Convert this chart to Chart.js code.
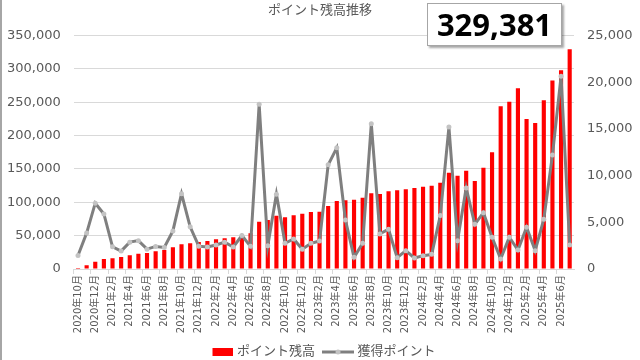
<!DOCTYPE html>
<html>
<head>
<meta charset="utf-8">
<script src="https://cdn.jsdelivr.net/npm/chart.js@4.4.1/dist/chart.umd.min.js"></script>
<style>
  html, body { margin: 0; padding: 0; background: #ffffff; }
  #wrap { position: relative; width: 640px; height: 360px; overflow: hidden; }
  #edge { position: absolute; left: 0; top: 0; width: 2px; height: 360px; background: #a6a6a6; }
  #badge {
    position: absolute; left: 427px; top: 3px; width: 133px; height: 41px;
    background: #fff; border: 1px solid #a6a6a6; box-shadow: 2px 2px 2px rgba(0,0,0,0.35);
    font-family: "Noto Sans", "DejaVu Sans", sans-serif; font-weight: bold; font-size: 31px;
    line-height: 41px; text-align: center; color: #000;
  }
</style>
</head>
<body>
<div id="wrap">
  <canvas id="c" width="640" height="360"></canvas>
  <div id="edge"></div>
  <div id="badge"></div>
</div>
<script>
const categories = [
  "2020年10月","2020年11月","2020年12月",
  "2021年1月","2021年2月","2021年3月","2021年4月","2021年5月","2021年6月","2021年7月","2021年8月","2021年9月","2021年10月","2021年11月","2021年12月",
  "2022年1月","2022年2月","2022年3月","2022年4月","2022年5月","2022年6月","2022年7月","2022年8月","2022年9月","2022年10月","2022年11月","2022年12月",
  "2023年1月","2023年2月","2023年3月","2023年4月","2023年5月","2023年6月","2023年7月","2023年8月","2023年9月","2023年10月","2023年11月","2023年12月",
  "2024年1月","2024年2月","2024年3月","2024年4月","2024年5月","2024年6月","2024年7月","2024年8月","2024年9月","2024年10月","2024年11月","2024年12月",
  "2025年1月","2025年2月","2025年3月","2025年4月","2025年5月","2025年6月","2025年7月"
];
const pointBalance = [
  1500, 5500, 11000, 15000, 16000, 18000, 20500, 23000, 24000, 26500,
  28500, 32500, 37000, 38500, 40500, 42000, 44500, 46000, 47500, 48500,
  53500, 71000, 73500, 80000, 77500, 80500, 83000, 85500, 86000, 94500,
  102000, 103000, 104000, 107000, 113500, 112500, 116500, 118000, 119500, 121500,
  123500, 125000, 129500, 144500, 140000, 147500, 132000, 152000, 175000, 244000,
  251000, 271000, 225000, 219000, 253000, 282500, 298000, 329381
];
const earnedPoints = [
  1450, 3850, 7050, 5900, 2380, 1920, 2880, 3040, 2130, 2420,
  2310, 4080, 8060, 4520, 2450, 2360, 2575, 2880, 2360, 3590,
  2430, 17650, 2500, 8010, 2750, 3220, 2110, 2750, 3000, 11160,
  12980, 5260, 1250, 2750, 15560, 3760, 4260, 1215, 1970, 1180,
  1430, 1570, 5720, 15200, 3040, 8690, 4790, 6040, 3400, 1070,
  3400, 2040, 4470, 1970, 5330, 12200, 20640, 2575
];
const leftTicks = [0, 50000, 100000, 150000, 200000, 250000, 300000, 350000];
const rightTicks = [0, 5000, 10000, 15000, 20000, 25000];
const seriesNames = ["ポイント残高", "獲得ポイント"];
const chartTitle = "ポイント残高推移";

document.getElementById('badge').textContent = pointBalance[pointBalance.length - 1].toLocaleString('en-US');

const FONT = '"DejaVu Sans", "Noto Sans CJK JP", sans-serif';
const TXT = '#595959';
const LINE = '#7f7f7f';
const MARK = '#c3c3c3';

function makeImg(kind) {
  const cv = document.createElement('canvas');
  cv.width = 32; cv.height = 10;
  const g = cv.getContext('2d');
  if (kind === 'bar') {
    g.fillStyle = '#ff0000';
    g.fillRect(11, 1, 21, 8);
  } else {
    g.strokeStyle = LINE; g.lineWidth = 3;
    g.beginPath(); g.moveTo(0, 5); g.lineTo(32, 5); g.stroke();
    g.fillStyle = MARK; g.beginPath(); g.arc(16, 5, 2.5, 0, Math.PI * 2); g.fill();
  }
  return cv;
}
const barImg = makeImg('bar');
const lineImg = makeImg('line');

Chart.defaults.font.family = FONT;
Chart.defaults.color = TXT;

new Chart(document.getElementById('c'), {
  data: {
    labels: categories,
    datasets: [
      {
        type: 'bar', label: seriesNames[0], data: pointBalance, yAxisID: 'y',
        backgroundColor: '#ff0000', borderWidth: 0,
        categoryPercentage: 1.0, barPercentage: 0.48, order: 1
      },
      {
        type: 'line', label: seriesNames[1], data: earnedPoints, yAxisID: 'y2',
        borderColor: LINE, borderWidth: 3, tension: 0,
        pointRadius: 2.5, pointBackgroundColor: MARK, pointBorderColor: MARK, pointBorderWidth: 0,
        order: 0
      }
    ]
  },
  options: {
    responsive: false,
    animation: false,
    devicePixelRatio: 1,
    layout: { padding: { left: 7, right: 7, top: 0, bottom: -8.5 } },
    plugins: {
      tooltip: { enabled: false },
      title: {
        display: true, text: chartTitle, color: TXT,
        font: { size: 13, weight: 'normal', family: FONT },
        padding: { top: 3, bottom: 17 }
      },
      legend: {
        position: 'bottom',
        labels: {
          usePointStyle: true, pointStyleWidth: 26, boxHeight: 10,
          color: TXT, font: { size: 13, family: FONT }, padding: 10,
          generateLabels: () => [
            { text: seriesNames[0], pointStyle: barImg, fontColor: TXT, datasetIndex: 0, lineWidth: 0, hidden: false },
            { text: seriesNames[1], pointStyle: lineImg, fontColor: TXT, datasetIndex: 1, lineWidth: 0, hidden: false }
          ]
        }
      }
    },
    scales: {
      x: {
        offset: true,
        afterFit: (s) => { s.height += 1.3; },
        grid: {
          offset: true, drawOnChartArea: false, drawTicks: true, tickLength: 5,
          color: (ctx) => (ctx.index % 2 === 0 ? '#d9d9d9' : 'rgba(0,0,0,0)')
        },
        border: { color: '#d9d9d9' },
        ticks: {
          autoSkip: false, minRotation: 90, maxRotation: 90, padding: 1,
          font: { size: 10, family: FONT }, color: TXT,
          callback: function (v, i) { return i % 2 === 0 ? categories[i] : ''; }
        }
      },
      y: {
        position: 'left', min: 0, max: leftTicks[leftTicks.length - 1],
        afterBuildTicks: (s) => { s.ticks = leftTicks.map(v => ({ value: v })); },
        afterFit: (s) => { s.width = 66.7; },
        grid: { color: '#d9d9d9', drawTicks: false },
        border: { display: false },
        ticks: {
          padding: 13, font: { size: 13, family: FONT }, color: TXT,
          callback: (v) => v.toLocaleString('en-US')
        }
      },
      y2: {
        position: 'right', min: 0, max: rightTicks[rightTicks.length - 1],
        afterBuildTicks: (s) => { s.ticks = rightTicks.map(v => ({ value: v })); },
        afterFit: (s) => { s.width = 59; },
        grid: { display: false, drawTicks: false },
        border: { display: false },
        ticks: {
          padding: 13, font: { size: 13, family: FONT }, color: TXT,
          callback: (v) => v.toLocaleString('en-US')
        }
      }
    }
  }
});
</script>
</body>
</html>
